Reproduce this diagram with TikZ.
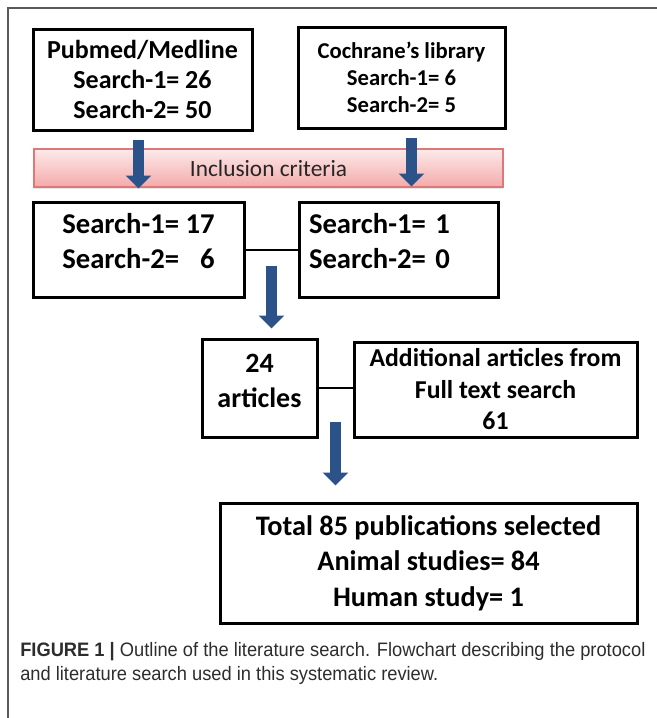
\documentclass[tikz,border=0pt]{standalone}
\usepackage{fontspec}
\setmainfont{Carlito}
\newfontfamily\capfont[FakeStretch=0.94]{Liberation Sans}
\usetikzlibrary{arrows.meta,shadows}

\definecolor{arrowblue}{RGB}{44,82,138}
\definecolor{barline}{RGB}{222,120,120}
\definecolor{bartop}{RGB}{253,234,234}
\definecolor{barbottom}{RGB}{244,170,170}
\definecolor{framegray}{RGB}{90,90,90}
\definecolor{captext}{RGB}{45,45,45}

\tikzset{
  box/.style={draw, rectangle, line width=2.25pt, align=center, inner sep=0pt},
  bigarrow/.style={arrowblue, line width=8.25pt, -{Triangle[width=18.75pt,length=9.75pt]}},
}

\begin{document}
\begin{tikzpicture}[x=0.75pt, y=-0.75pt]
        \useasboundingbox (0,0) rectangle (657,718);

        %===========================
        % Frame
        %===========================
        \draw[framegray, line width=0.8pt] (657,8) -- (8,8) -- (8,718);

        %===========================
        % Databases
        %===========================
        \draw node (pubmed) at (142.5,79.5) [box, minimum width=164.25pt, minimum height=75.75pt, font=\fontsize{19.5}{22.8}\selectfont\bfseries] {Pubmed/Medline\\Search-1= 26\\Search-2= 50};
        \draw node (cochrane) at (401.5,77.5) [box, minimum width=155.25pt, minimum height=75.75pt, font=\fontsize{17}{20.25}\selectfont\bfseries] {Cochrane’s library\\Search-1= 6\\Search-2= 5};

        % Inclusion criteria
        \draw node (criteria) at (268.5,168) [rectangle, draw=barline, line width=0.8pt, top color=bartop, bottom color=barbottom, drop shadow={opacity=0.2, shadow xshift=0pt, shadow yshift=-1.2pt}, minimum width=351.75pt, minimum height=28.5pt, font=\fontsize{17.5}{21}\selectfont, text=black!85] {Inclusion criteria};

        %===========================
        % After screening
        %===========================
        \draw node (midleft) at (138.5,249.5) [box, minimum width=158.25pt, minimum height=71.25pt, font=\fontsize{21.5}{26.25}\selectfont\bfseries] {Search-1= 17\\Search-2= \phantom{1}6\\[-12.75pt]\mbox{}};
        \draw node (midright) at (398.5,249.5) [box, align=left, text width=134.25pt, minimum width=149.25pt, minimum height=71.25pt, font=\fontsize{21.5}{26.25}\selectfont\bfseries] {Search-1= 1\\Search-2= 0\\[-12.75pt]\mbox{}};
        \draw[line width=1.5pt] (midleft) -- coordinate[midway] (join1) (midright);

        \draw[bigarrow, shorten <=6pt, shorten >=9pt] (midleft.north |- pubmed.south) -- (midleft.north);
        \draw[bigarrow, shorten <=6pt, shorten >=10.5pt] ([xshift=7.5pt]cochrane.south) -- ([xshift=7.5pt]cochrane.south |- midright.north);

        %===========================
        % Articles
        %===========================
        \draw node (found) at (259.5,388) [box, minimum width=86.25pt, minimum height=73.5pt, font=\fontsize{21}{26.25}\selectfont\bfseries] {24\\articles\\[-15pt]\mbox{}};
        \draw node (extra) at (495.5,389.5) [box, minimum width=212.25pt, minimum height=71.25pt, font=\fontsize{19.3}{23.6}\selectfont\bfseries] {Additional articles from\\Full text search\\61};
        \draw[line width=1.5pt] (found.east) -- coordinate[midway] (join2) (found.east -| extra.west);

        \draw[bigarrow, shorten <=12pt, shorten >=6.75pt] (join1) -- (join1 |- found.north);

        %===========================
        % Result
        %===========================
        \draw node (total) at (428.5,563) [box, minimum width=312.75pt, minimum height=90pt, font=\fontsize{21.2}{26.6}\selectfont\bfseries] {Total 85 publications selected\\Animal studies= 84\\Human study= 1};

        \draw[bigarrow, shorten <=25.5pt, shorten >=12pt] (join2) -- (join2 |- total.north);

        % Caption
        \node (caption) at (20,642) [anchor=north west, inner sep=0pt, align=left, text=captext, font=\capfont\fontsize{14.6}{18}\selectfont] {{\bfseries FIGURE 1 |} Outline of the literature search. Flowchart describing the protocol\\and literature search used in this systematic review.};

\end{tikzpicture}
\end{document}
